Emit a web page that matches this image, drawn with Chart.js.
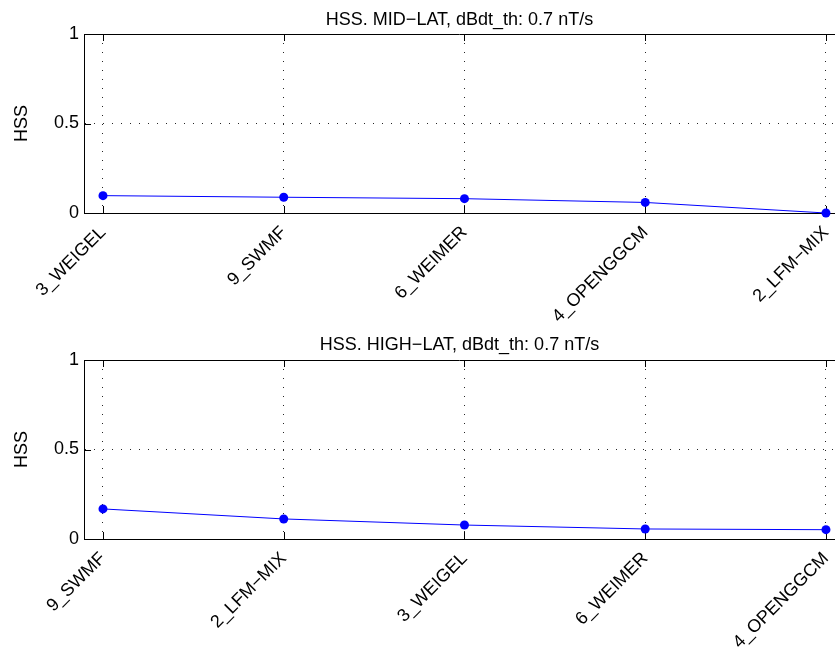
<!DOCTYPE html>
<html>
<head>
<meta charset="utf-8">
<script src="https://cdn.jsdelivr.net/npm/chart.js@4"></script>
<style>
  body { margin: 0; background: #fff; }
  canvas { position: absolute; left: 0; }
  #midChart { top: 0; }
  #highChart { top: 325px; }
</style>
</head>
<body>
<canvas id="midChart" width="835" height="325"></canvas>
<canvas id="highChart" width="835" height="324"></canvas>
<script>
const midModels = ['3_WEIGEL', '9_SWMF', '6_WEIMER', '4_OPENGGCM', '2_LFM\u2212MIX'];
const midHss = [0.097, 0.088, 0.080, 0.059, 0.0];

const highModels = ['9_SWMF', '2_LFM\u2212MIX', '3_WEIGEL', '6_WEIMER', '4_OPENGGCM'];
const highHss = [0.168, 0.112, 0.078, 0.056, 0.052];

const yTicks = [0, 0.5, 1];

Chart.defaults.font.family = '"Liberation Sans", Arial, Helvetica, sans-serif';
Chart.defaults.font.size = 18;
Chart.defaults.color = '#000';

// matlab style box: top border and ticks pointing inward
const innerTicks = {
    id: 'innerTicks',
    beforeDatasetsDraw(chart) {
        const { ctx, chartArea: a, scales: { x, y } } = chart;
        ctx.save();
        ctx.strokeStyle = '#000';
        ctx.lineWidth = 1;
        ctx.beginPath();
        ctx.moveTo(a.left, a.top + 0.5);
        ctx.lineTo(a.right, a.top + 0.5);
        x.ticks.forEach(t => {
            const px = Math.round(x.getPixelForValue(t.value)) + 0.5;
            ctx.moveTo(px, a.bottom);
            ctx.lineTo(px, a.bottom - 7);
            ctx.moveTo(px, a.top);
            ctx.lineTo(px, a.top + 7);
        });
        y.ticks.forEach(t => {
            const py = Math.round(y.getPixelForValue(t.value)) + 0.5;
            ctx.moveTo(a.left, py);
            ctx.lineTo(a.left + 7, py);
        });
        ctx.stroke();
        ctx.restore();
    }
};

function makeChart(id, title, models, values, titlePad, xHeight) {
    const ctx = document.getElementById(id).getContext('2d');
    return new Chart(ctx, {
        type: 'line',
        data: {
            datasets: [{
                data: values.map((v, i) => ({ x: i, y: v })),
                borderColor: '#0000ff',
                backgroundColor: '#0000ff',
                borderWidth: 1,
                pointRadius: 4.5,
                pointBorderWidth: 0,
                pointBackgroundColor: '#0000ff',
                tension: 0,
                clip: false
            }]
        },
        options: {
            responsive: false,
            animation: false,
            layout: { padding: 0, autoPadding: false },
            plugins: {
                legend: { display: false },
                tooltip: { enabled: false },
                title: {
                    display: true,
                    text: title,
                    fullSize: false,
                    font: { size: 18, weight: 'normal' },
                    padding: titlePad
                }
            },
            scales: {
                x: {
                    type: 'linear',
                    min: -0.105,
                    max: 4.05,
                    afterFit: s => {
                        s.height = xHeight;
                        s.paddingLeft = 0;
                        s.paddingRight = 0;
                    },
                    ticks: {
                        stepSize: 1,
                        includeBounds: false,
                        autoSkip: false,
                        minRotation: 45,
                        maxRotation: 45,
                        padding: 9,
                        font: { size: 18 },
                        callback: v => models[v]
                    },
                    grid: { color: 'rgba(0,0,0,0.85)', drawTicks: false },
                    border: { color: '#000', width: 1, dash: [1, 8] }
                },
                y: {
                    min: 0,
                    max: 1,
                    afterFit: s => { s.width = 84; },
                    afterBuildTicks: s => { s.ticks = yTicks.map(v => ({ value: v })); },
                    title: {
                        display: true,
                        text: 'HSS',
                        font: { size: 18 },
                        padding: { top: 11, bottom: 0 }
                    },
                    ticks: {
                        padding: 5,
                        font: { size: 18 },
                        callback: v => String(v)
                    },
                    grid: { color: 'rgba(0,0,0,0.85)', drawTicks: false },
                    border: { color: '#000', width: 1, dash: [1, 8] }
                }
            }
        },
        plugins: [innerTicks]
    });
}

makeChart('midChart', 'HSS. MID\u2212LAT, dBdt_th: 0.7 nT/s', midModels, midHss,
    { top: 9, bottom: 3.4 }, 112);
makeChart('highChart', 'HSS. HIGH\u2212LAT, dBdt_th: 0.7 nT/s', highModels, highHss,
    { top: 9.2, bottom: 4.2 }, 110);
</script>
</body>
</html>
